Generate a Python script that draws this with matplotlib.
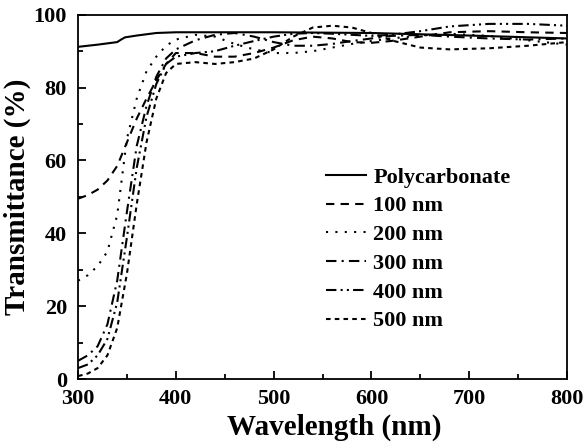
import matplotlib
matplotlib.use("Agg")
import matplotlib.pyplot as plt
from matplotlib.ticker import MultipleLocator

plt.rcParams['font.family'] = ['Liberation Serif', 'DejaVu Serif']
plt.rcParams['font.weight'] = 'bold'

# Polycarbonate substrate
pc_wl = [300, 320, 340, 344, 348, 360, 380, 400, 500, 600, 700, 800]
pc_t = [91.2, 91.8, 92.5, 93.2, 93.8, 94.3, 95.0, 95.2, 95.2, 95.0, 94.3, 93.5]

wl = [300, 310, 320, 330, 340, 350, 360, 370, 380, 390, 400, 420, 440, 460, 480,
      500, 520, 540, 560, 580, 600, 620, 650, 680, 720, 760, 800]

t_100 = [49.5, 50.5, 52, 54.5, 58.5, 65, 71.5, 77, 82, 86.5, 89.5, 89.5, 88.5, 88.5, 89.5,
         91, 93, 94, 93.5, 92.5, 92.3, 92.8, 94, 95.2, 95.5, 95.2, 95]
t_200 = [27, 28.5, 31, 35, 45, 66, 77, 84.5, 88.5, 91.5, 93.2, 94.5, 94, 92, 90.5,
         89.5, 89.5, 90, 91, 92, 92.8, 93.5, 94.3, 94.8, 94.2, 93, 91.8]
t_300 = [5, 6.5, 9, 15, 27, 46, 64, 75, 83, 88, 90.5, 93, 94.5, 95, 94,
         92.5, 91.5, 91.5, 92, 92.8, 93.5, 94.2, 94.5, 94, 93.5, 93.2, 93.5]
t_400 = [3, 4, 6.5, 11, 21, 39, 58, 72, 81, 86.5, 88.5, 89.5, 90, 91.5, 92.8,
         94, 94.8, 95, 94.8, 94.5, 94.2, 94.5, 95.5, 96.8, 97.5, 97.5, 97]
t_500 = [0.8, 1.5, 3, 6.5, 14, 29, 48, 65, 77, 84, 86.5, 87, 86.5, 87, 88,
         90.5, 94, 96.5, 97, 96.5, 95, 93, 91, 90.5, 90.8, 91.5, 92.5]

fig = plt.figure(figsize=(5.87, 4.48), dpi=100)
ax = fig.add_axes([0.133, 0.154, 0.833, 0.813])

ax.plot(pc_wl, pc_t, color='black', lw=1.5, ls='-', label='Polycarbonate')
ax.plot(wl, t_100, color='black', lw=1.5, ls=(0, (4, 3)), label='100 nm')
ax.plot(wl, t_200, color='black', lw=1.5, ls=(0, (1, 3.5)), label='200 nm')
ax.plot(wl, t_300, color='black', lw=1.5, ls=(0, (5, 2.5, 1, 2.5)), label='300 nm')
ax.plot(wl, t_400, color='black', lw=1.5, ls=(0, (5, 2, 1, 2, 1, 2)), label='400 nm')
ax.plot(wl, t_500, color='black', lw=1.5, ls=(0, (2.2, 2)), label='500 nm')

ax.set_xlim(300, 800)
ax.set_ylim(0, 100)
ax.xaxis.set_major_locator(MultipleLocator(100))
ax.xaxis.set_minor_locator(MultipleLocator(50))
ax.yaxis.set_major_locator(MultipleLocator(20))
ax.yaxis.set_minor_locator(MultipleLocator(10))
ax.tick_params(which='both', direction='in', top=False, right=False, width=1.3)
ax.tick_params(which='major', length=6, labelsize=16)
ax.tick_params(axis='x', which='major', pad=7.5)
ax.tick_params(axis='y', which='major', pad=8)
ax.tick_params(which='minor', length=3.5)
for s in ax.spines.values():
    s.set_linewidth(1.3)

ax.set_xlabel('Wavelength (nm)', fontsize=21, fontweight='bold')
ax.xaxis.set_label_coords(0.524, -0.095)
ax.set_ylabel('Transmittance (%)', fontsize=21, fontweight='bold', labelpad=2)

leg = ax.legend(loc='upper left', bbox_to_anchor=(0.508, 0.582), frameon=False,
                fontsize=16, handlelength=1.8, handletextpad=0.3,
                labelspacing=0.37, borderpad=0, borderaxespad=0)

fig.savefig('out.png', dpi=100)
